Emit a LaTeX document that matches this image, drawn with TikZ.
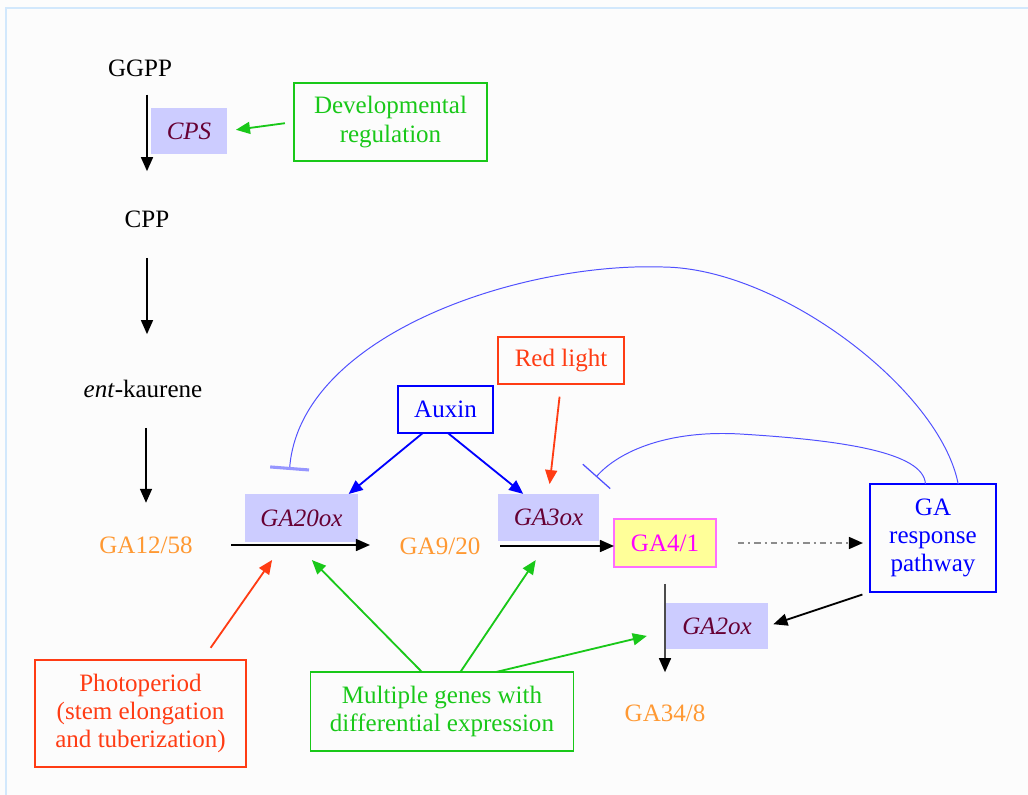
\documentclass[tikz,border=0pt]{standalone}
\usepackage{fontspec}
\setmainfont{Liberation Serif}
\usetikzlibrary{arrows.meta}

\definecolor{gaorange}{RGB}{255,153,51}
\definecolor{gagreen}{RGB}{25,200,25}
\definecolor{gared}{RGB}{255,60,20}
\definecolor{gablue}{RGB}{0,0,255}
\definecolor{gainib}{RGB}{80,80,255}
\definecolor{gabar}{RGB}{150,150,255}
\definecolor{genefill}{RGB}{204,204,255}
\definecolor{genetext}{RGB}{102,0,51}
\definecolor{gayellow}{RGB}{255,255,153}
\definecolor{gamagenta}{RGB}{255,0,255}
\definecolor{gapink}{RGB}{255,110,255}
\definecolor{cornice}{RGB}{210,232,252}

\newcommand{\gafont}{\fontsize{17.8}{20}\selectfont}

\begin{document}
\begin{tikzpicture}[x=0.025cm, y=-0.025cm,
  every node/.style={font=\gafont, inner sep=0pt, outer sep=0pt, align=center},
  gene/.style={fill=genefill, text=genetext, font=\gafont\itshape},
  box/.style={draw, line width=1.1pt},
  freccia/.style={-{Triangle[length=10pt,width=8.5pt]}, line width=1.3pt},
  inib/.style={gainib, line width=0.7pt}
]

% sfondo e cornice
\fill[white!99!black] (0,0) rectangle (1028,795);
\useasboundingbox (0,0) rectangle (1028,795);
\draw[cornice, line width=1.5pt] (6,795) -- (6,8) -- (1028,8);

% via principale
\node (ggpp) at (140,68) {GGPP};
\node (cpp) at (147,219) {CPP};
\node (kaur) at (143,389) {\textit{ent}-kaurene};
\node[text=gaorange] (ga12) at (146,545) {GA12/58};
\node[text=gaorange] (ga9) at (440,546) {GA9/20};
\node[box, draw=gapink, fill=gayellow, text=gamagenta,
  minimum width=2.55cm, minimum height=1.2cm] (ga41) at (665,543) {GA4/1};
\node[text=gaorange] (ga34) at (665,713) {GA34/8};

% enzimi
\node[gene, minimum width=1.9cm, minimum height=1.15cm] (cps) at (189,131) {CPS};
\node[gene, minimum width=2.83cm, minimum height=1.2cm] (ga20) at (301.5,518) {GA20ox};
\node[gene, minimum width=2.53cm, minimum height=1.18cm] (ga3) at (548.5,517.5) {GA3ox};
\node[gene, minimum width=2.55cm, minimum height=1.15cm] (ga2) at (717,626) {GA2ox};

% regolatori
\node[box, draw=gagreen, text=gagreen, minimum width=4.83cm, minimum height=1.95cm]
  (dev) at (390.5,122) {Developmental\\regulation};
\node[box, draw=gablue, text=gablue, minimum width=2.38cm, minimum height=1.18cm]
  (auxin) at (445.5,409.5) {Auxin};
\node[box, draw=gared, text=gared, minimum width=3.15cm, minimum height=1.18cm]
  (redl) at (561,360.5) {Red light};
\node[box, draw=gablue, text=gablue, minimum width=3.15cm, minimum height=2.7cm]
  (resp) at (933,538) {GA\\response\\pathway};
\node[box, draw=gared, text=gared, minimum width=5.28cm, minimum height=2.68cm]
  (photo) at (140.5,713.5) {Photoperiod\\(stem elongation\\and tuberization)};
\node[box, draw=gagreen, text=gagreen, minimum width=6.58cm, minimum height=1.98cm]
  (multi) at (442,711.5) {Multiple genes with\\differential expression};

% frecce della via
\draw[freccia, shorten <=19pt, shorten >=34pt] (ggpp -| cpp) -- (cpp.center);
\draw[freccia, shorten <=27.7pt, shorten >=39pt] (cpp.center) -- (cpp |- kaur);
\draw[freccia, shorten <=27.7pt, shorten >=30pt] (ga12 |- kaur) -- (ga12.center);
\draw[freccia, shorten <=60.5pt, shorten >=49.8pt] (ga12.center) -- (ga12 -| ga9);
\draw[freccia, shorten <=42.7pt] (ga9.center) -- (ga9 -| ga41.west);
\draw[-{Triangle[length=10pt,width=8.5pt,color=black]}, line width=1.3pt, black!45,
  dash pattern=on 4.6pt off 2.8pt on 1.4pt off 2.8pt, shorten <=15.6pt, shorten >=5pt]
  (ga41.east) -- (ga41.east -| resp.west);
\draw[-{Triangle[length=10pt,width=8.5pt,color=black]}, line width=1.3pt, black!70,
  shorten <=12pt, shorten >=29pt] (ga41.south) -- (ga41.south |- ga34);
\draw[freccia, shorten <=5.7pt, shorten >=4pt] (resp.south west) -- (ga2.east);

% regolazione
\draw[freccia, gagreen, shorten <=6.4pt, shorten >=6.4pt] (dev.west) -- (cps.east);
\draw[freccia, gablue] (auxin.-134) -- (ga20.27);
\draw[freccia, gablue] (auxin.-84) -- (ga3.137);
\draw[freccia, gared, shorten <=9pt, shorten >=7pt] (redl.south) -- (ga3.north);
\draw[freccia, gared, shorten <=10.5pt, shorten >=15.6pt] (photo.41) -- (ga20.-125);
\draw[freccia, gagreen, shorten >=18pt] (multi.117) -- (ga20.-107);
\draw[freccia, gagreen, shorten >=16.3pt] (multi.65) -- (ga3.south);
\draw[freccia, gagreen, shorten >=14pt] (multi.36) -- (ga2.186);

% retroinibizione
\coordinate (tb1) at ([shift={(-12,-24)}]ga20.north);
\coordinate (tb2) at ([shift={(-3,-17)}]ga3.north east);
\draw[inib, -{Bar[width=27.7pt, line width=2.2pt, color=gabar]}]
  (resp.65) .. controls (940,390) and (780,268) .. (663,267)
  .. controls (520,262) and (300,335) .. (tb1);
\draw[inib, -{Bar[width=26pt, line width=0.9pt]}]
  (resp.98) .. controls (924,452) and (840,440) .. (740,434)
  .. controls (670,430) and (620,450) .. (tb2);

\end{tikzpicture}
\end{document}
